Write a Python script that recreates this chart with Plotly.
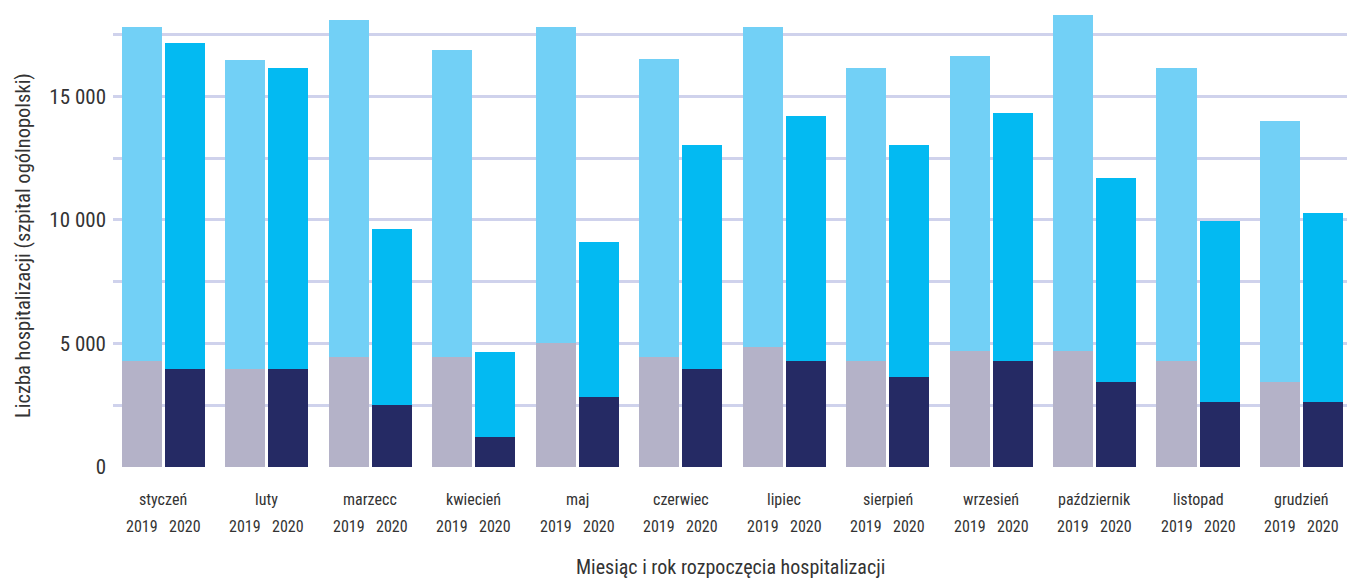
import plotly.graph_objects as go

# Monthly hospitalisations, general hospitals, 2019 vs 2020
months = ["styczeń", "luty", "marzecc", "kwiecień", "maj", "czerwiec",
          "lipiec", "sierpień", "wrzesień", "październik", "listopad", "grudzień"]
years = ["2019", "2020"]

# lower segment of each bar
base_2019 = [4290, 3970, 4450, 4450, 5020, 4450, 4860, 4290, 4700, 4700, 4290, 3440]
base_2020 = [3970, 3970, 2510, 1215, 2830, 3970, 4290, 3640, 4290, 3440, 2630, 2630]
# upper segment of each bar
upper_2019 = [13520, 12510, 13650, 12450, 12780, 12050, 12940, 11860, 11940, 13600, 11860, 10560]
upper_2020 = [13200, 12180, 7130, 3445, 6280, 9070, 9910, 9400, 10040, 8260, 7330, 7650]

y_ticks = [0, 2500, 5000, 7500, 10000, 12500, 15000, 17500]
y_tick_text = ["0", "", "5 000", "", "10 000", "", "15 000", ""]

FONT = "Roboto Condensed, Liberation Sans Narrow, sans-serif"
TEXT = "#333333"

SHIFT = 0.208
WIDTH = 0.387
x19 = [i - SHIFT for i in range(len(months))]
x20 = [i + SHIFT for i in range(len(months))]

fig = go.Figure()
for xs, vals, col, name in [
    (x19, base_2019, "#b4b2c8", "2019 a"),
    (x19, upper_2019, "#72d0f6", "2019 b"),
    (x20, base_2020, "#252a64", "2020 a"),
    (x20, upper_2020, "#03baf2", "2020 b"),
]:
    fig.add_trace(go.Bar(x=xs, y=vals, width=WIDTH, name=name,
                         marker=dict(color=col, line=dict(width=0)),
                         showlegend=False))

annotations = []
for i, m in enumerate(months):
    annotations.append(dict(x=i, y=-0.072, xref="x", yref="paper", text=m,
                            showarrow=False, xanchor="center", yanchor="middle",
                            font=dict(family=FONT, size=16, color=TEXT)))
    for xv, yr in ((x19[i], years[0]), (x20[i], years[1])):
        annotations.append(dict(x=xv, y=-0.131, xref="x", yref="paper", text=yr,
                                showarrow=False, xanchor="center", yanchor="middle",
                                font=dict(family=FONT, size=16, color=TEXT)))
# axis titles
annotations.append(dict(x=0.5, y=-0.218, xref="paper", yref="paper",
                        text="Miesiąc i rok rozpoczęcia hospitalizacji",
                        showarrow=False, xanchor="center", yanchor="middle",
                        font=dict(family=FONT, size=20, color=TEXT)))
annotations.append(dict(x=-0.0729, y=0.4836, xref="paper", yref="paper",
                        text="Liczba hospitalizacji (szpital ogólnopolski)",
                        textangle=-90, showarrow=False,
                        xanchor="center", yanchor="middle",
                        font=dict(family=FONT, size=20.5, color=TEXT)))

fig.update_layout(
    barmode="stack",
    width=1347, height=579,
    margin=dict(l=113, r=0, t=10, b=112),
    paper_bgcolor="white", plot_bgcolor="white",
    annotations=annotations,
    xaxis=dict(range=[-0.488, 11.44], showticklabels=False, showgrid=False,
               zeroline=False, showline=False, fixedrange=True),
    yaxis=dict(range=[0, 18500], tickvals=y_ticks, ticktext=y_tick_text,
               showgrid=True, gridcolor="#cfd2ec", gridwidth=3,
               zeroline=False, showline=False, ticks="", ticklabelstandoff=6,
               tickfont=dict(family=FONT, size=21, color=TEXT)),
)

fig.write_html("out.html")
